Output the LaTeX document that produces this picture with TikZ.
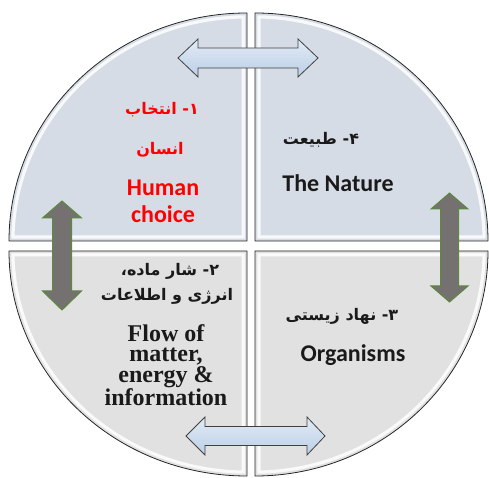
\documentclass[tikz,border=0pt]{standalone}
\usepackage{fontspec}
\setmainfont{Carlito}
\newfontfamily\fa[Script=Arabic]{DejaVu Sans}
\newfontfamily\serifb{Liberation Serif}
\TeXXeTstate=1
\definecolor{qblue}{HTML}{D6DCE5}
\definecolor{qgrey}{HTML}{E1E1E1}
\definecolor{abluet}{HTML}{E2EBF5}
\definecolor{ablueb}{HTML}{BBCFE7}
\definecolor{agrey}{HTML}{767171}
\definecolor{agreen}{HTML}{5A8A3C}
\definecolor{txt}{HTML}{1A1A1A}
\definecolor{red1}{HTML}{FF0000}
\def\qTL{(247pt,237pt) -- (9pt,237pt) arc[start angle=180,end angle=90,x radius=238pt,y radius=228pt] -- cycle}
\def\qTR{(255pt,237pt) -- (255pt,465pt) arc[start angle=90,end angle=0,x radius=233pt,y radius=228pt] -- cycle}
\def\qBL{(247pt,227pt) -- (9pt,227pt) arc[start angle=180,end angle=270,x radius=238pt,y radius=225pt] -- cycle}
\def\qBR{(255pt,227pt) -- (488pt,227pt) arc[start angle=0,end angle=-90,x radius=233pt,y radius=225pt] -- cycle}
\newcommand\quadrant[2]{%
  \fill[#2] #1;
  \begin{scope}
    \clip #1;
    \draw[white, line width=11pt, opacity=.85, line join=miter] #1;
    \draw[#2, line width=4.5pt, line join=miter] #1;
  \end{scope}
  \draw[black!85, line width=0.8pt] #1;
}
\tikzset{
  harrow/.style={draw=black!75, line width=0.8pt, top color=abluet, bottom color=ablueb, line join=miter},
  varrow/.style={draw=agreen, line width=1pt, fill=agrey, line join=miter},
  en/.style={font=\bfseries\fontsize{24}{26}\selectfont, text=txt, inner sep=0pt},
  faL/.style={font=\fa\bfseries\fontsize{16}{20}\selectfont, text=txt, inner sep=0pt},
}
\begin{document}
\begin{tikzpicture}[x=1pt,y=1pt]
\useasboundingbox (0,0) rectangle (489,478);
\quadrant{\qTL}{qblue}
\quadrant{\qTR}{qblue}
\quadrant{\qBL}{qgrey}
\quadrant{\qBR}{qgrey}
% arrows
\draw[harrow] (178,420) -- (198,439) -- (198,430) -- (298,430) -- (298,439) -- (318,420) -- (298,401) -- (298,410) -- (198,410) -- (198,401) -- cycle;
\draw[harrow] (186,42) -- (205,61) -- (205,51.5) -- (307,51.5) -- (307,61) -- (325,42) -- (307,23) -- (307,32.5) -- (205,32.5) -- (205,23) -- cycle;
\draw[varrow] (62,277) -- (81.5,260) -- (71.5,260) -- (71.5,187) -- (81.5,187) -- (62,168) -- (42.5,187) -- (52.5,187) -- (52.5,260) -- (42.5,260) -- cycle;
\draw[varrow] (449.5,285) -- (468,269) -- (458.5,269) -- (458.5,192) -- (468,192) -- (449.5,176) -- (431,192) -- (440.5,192) -- (440.5,269) -- (431,269) -- cycle;
% texts
\node[faL, text=red1] (h1) at (162,368) {\beginR ۱- انتخاب\endR};
\node[faL, text=red1] (h2) at (160,328) {\beginR انسان\endR};
\node[en, text=red1, align=center, font=\bfseries\fontsize{24}{27}\selectfont] (h3) at (163,277) {Human\\choice};
\node[faL] (n1) at (321,338) {\beginR ۴- طبیعت\endR};
\node[en] (n2) at (338,295) {The Nature};
\node[faL] (f1) at (170,207) {\beginR ۲- شار ماده،\endR};
\node[faL] (f2) at (167,182) {\beginR انرژی و اطلاعات\endR};
\node[inner sep=0pt, text=txt, align=center, font=\serifb\bfseries\fontsize{24}{20.5}\selectfont] (f3) at (166,113) {Flow of\\matter,\\energy \&\\information};
\node[faL] (o1) at (342,162) {\beginR ۳- نهاد زیستی\endR};
\node[en] (o2) at (353,123) {Organisms};
\end{tikzpicture}
\end{document}
